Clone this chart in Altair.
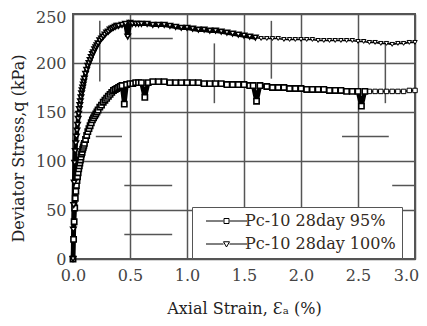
import altair as alt
import pandas as pd

# ---- data ----
strain_95 = [0, 0.005, 0.01, 0.015, 0.02, 0.025, 0.03, 0.035, 0.04, 0.045, 0.05, 0.055, 0.06, 0.065,
             0.07, 0.075, 0.08, 0.085, 0.09, 0.095, 0.10,
             0.11, 0.12, 0.13, 0.14, 0.15, 0.16, 0.17, 0.18, 0.19, 0.20, 0.21, 0.22, 0.235,
             0.25, 0.265, 0.28, 0.295, 0.31, 0.325, 0.34, 0.355, 0.37, 0.385, 0.40, 0.415, 0.43, 0.45, 0.47, 0.50,
             0.525, 0.55, 0.575, 0.60, 0.63, 0.66, 0.70,
             0.75, 0.80, 0.85, 0.90, 0.95, 1.00, 1.05, 1.10, 1.15, 1.20, 1.25, 1.30, 1.35, 1.40, 1.45, 1.50, 1.55,
             1.58, 1.61, 1.64,
             1.70, 1.75, 1.80, 1.85, 1.90, 1.95, 2.00, 2.05, 2.10, 2.15, 2.20, 2.25, 2.30, 2.35, 2.40, 2.45, 2.50,
             2.53, 2.56,
             2.60, 2.65, 2.70, 2.75, 2.80, 2.85, 2.90, 2.95, 3.00]
stress_95 = [0, 20, 38, 52, 62, 69, 75, 80, 84, 88, 92, 95, 98, 101,
             104, 107, 109, 112, 114, 116, 118,
             122, 126, 130, 133, 136, 139, 142, 144, 146, 148, 150, 152, 155,
             157, 160, 162, 164, 166, 168, 170, 172, 173, 174, 175, 176, 177, 158, 178, 179,
             179, 180, 180, 180, 165, 180, 181,
             181, 181, 180, 180, 180, 180, 180, 180, 179, 179, 179, 179, 178, 178, 178, 178, 177,
             177, 161, 177,
             176, 175, 175, 175, 174, 174, 174, 173, 173, 173, 173, 172, 172, 172, 171, 171, 171,
             156, 171,
             171, 171, 171, 171, 171, 171, 171, 172, 172]

strain_100 = [0, 0.003, 0.006, 0.01, 0.015, 0.02, 0.025, 0.03, 0.035, 0.04, 0.045, 0.05, 0.055, 0.06,
              0.065, 0.07, 0.075, 0.08, 0.085, 0.09, 0.095, 0.10,
              0.11, 0.12, 0.13, 0.14, 0.15, 0.16, 0.17, 0.18, 0.19, 0.20, 0.21, 0.22, 0.235,
              0.25, 0.265, 0.28, 0.295, 0.31, 0.325, 0.34, 0.355, 0.37, 0.385, 0.40, 0.43, 0.46, 0.48, 0.50,
              0.52, 0.55, 0.575,
              0.60, 0.65, 0.70, 0.75, 0.80, 0.85, 0.90, 0.95, 1.00, 1.05,
              1.10, 1.15, 1.20, 1.25, 1.30, 1.35, 1.40, 1.45, 1.50, 1.55,
              1.60, 1.65, 1.70, 1.75, 1.80, 1.85, 1.90, 1.95, 2.00, 2.05,
              2.10, 2.15, 2.20, 2.25, 2.30, 2.35, 2.40, 2.45, 2.50, 2.55,
              2.60, 2.65, 2.70, 2.75, 2.80, 2.85, 2.90, 2.95, 3.00]
stress_100 = [0, 30, 55, 78, 98, 110, 118, 125, 131, 137, 143, 148, 153, 157,
              161, 165, 169, 172, 175, 178, 181, 184,
              189, 193, 197, 200, 203, 206, 209, 211, 214, 216, 218, 220, 223,
              225, 227, 229, 231, 232, 234, 235, 236, 237, 238, 238, 239, 240, 227, 241,
              240, 240, 240,
              240, 240, 239, 239, 239, 238, 237, 236, 236, 235,
              234, 234, 233, 233, 232, 231, 230, 229, 228, 227,
              226, 225, 225, 225, 225, 224, 224, 224, 224, 224,
              224, 223, 223, 223, 223, 223, 223, 223, 222, 222,
              221, 221, 220, 220, 219, 220, 220, 221, 221]

series_names = ["Pc-10 28day 95%", "Pc-10 28day 100%"]

# short grid-dash segments visible in the reference
hseg_y = [225, 125, 125, 75, 75, 25]
hseg_x1 = [0.50, 0.20, 2.36, 0.45, 2.80, 0.45]
hseg_x2 = [0.875, 0.43, 2.77, 0.87, 3.00, 0.87]
vseg_x = [0.235, 1.24, 1.74, 2.74]
vseg_y1 = [181, 159, 184, 159]
vseg_y2 = [243, 220, 243, 220]

x_ticks = [0, 0.5, 1.0, 1.5, 2.0, 2.5, 3.0]
y_ticks = [0, 50, 100, 150, 200, 250]

df = pd.concat([
    pd.DataFrame({"strain": strain_95, "stress": stress_95, "series": series_names[0],
                  "idx": range(len(strain_95))}),
    pd.DataFrame({"strain": strain_100, "stress": stress_100, "series": series_names[1],
                  "idx": range(len(strain_100))}),
])
hseg = pd.DataFrame({"y": hseg_y, "x1": hseg_x1, "x2": hseg_x2})
vseg = pd.DataFrame({"x": vseg_x, "y1": vseg_y1, "y2": vseg_y2})

FONT = "DejaVu Serif"
xscale = alt.Scale(domain=[0, 3], nice=False)
yscale = alt.Scale(domain=[0, 250], nice=False)

xaxis = alt.Axis(values=x_ticks, format=".1f", title="Axial Strain, Ɛₐ (%)",
                 grid=True, ticks=False, domain=False, labelPadding=8, labelFlush=False,
                 labelOffset={"condition": {"test": "datum.value >= 3", "value": -9}, "value": 0},
                 titleY=54, titleBaseline="alphabetic")
yaxis = alt.Axis(values=y_ticks, title="Deviator Stress,q (kPa)", grid=True, ticks=False,
                 domain=False, labelPadding=7, labelFlush=False,
                 labelOffset={"condition": {"test": "datum.value >= 250", "value": 3}, "value": 0},
                 titleX=-50, titleY=134, titleBaseline="alphabetic")

# legend symbols: a line with the marker in its middle
sq = "M0,0H7.0M9.4,0H16.4M7.2,-1H9.2V1H7.2Z"
tri = "M0,0H7.0M9.4,0H16.4M7.0,-0.9H9.4L8.2,1.2Z"

legend = alt.Legend(
    title=None, orient="none", legendX=119, legendY=193,
    fillColor="white", strokeColor="#555", padding=6,
    labelFont=FONT, labelFontSize=16, labelColor="#332a22", labelLimit=0,
    symbolSize=25, labelOffset=31, rowPadding=7,
    symbolStrokeColor="black", symbolStrokeWidth=1,
)

# which part of each curve is drawn as a dense heavy band, which as a light marker line
heavy = f"datum.series == '{series_names[0]}' ? datum.strain <= 2.56 : datum.strain <= 1.6"
light = f"datum.series == '{series_names[0]}' ? datum.strain >= 2.53 : datum.strain >= 1.6"

hrules = alt.Chart(hseg).mark_rule(color="#555", strokeWidth=1.5).encode(
    x=alt.X("x1:Q", scale=xscale, axis=xaxis), x2="x2:Q",
    y=alt.Y("y:Q", scale=yscale, axis=yaxis))
vrules = alt.Chart(vseg).mark_rule(color="#555", strokeWidth=1.5).encode(
    x=alt.X("x:Q", scale=xscale), y=alt.Y("y1:Q", scale=yscale), y2="y2:Q")

shape_scale = alt.Scale(domain=series_names, range=["square", "triangle-down"])


def curve(expr, lw, msize, mstroke):
    base = alt.Chart(df).transform_filter(expr)
    ln = base.mark_line(strokeWidth=lw, color="black").encode(
        x=alt.X("strain:Q", scale=xscale),
        y=alt.Y("stress:Q", scale=yscale),
        detail="series:N",
        order="idx:Q",
    )
    pt = base.mark_point(filled=False, fill="white", fillOpacity=1, stroke="black",
                         strokeWidth=mstroke, size=msize, opacity=1).encode(
        x=alt.X("strain:Q", scale=xscale),
        y=alt.Y("stress:Q", scale=yscale),
        shape=alt.Shape("series:N", scale=shape_scale, legend=None),
    )
    return ln, pt


ln_h, pt_h = curve(heavy, 4.5, 28, 1.6)
ln_l, pt_l = curve(light, 1.6, 20, 1.0)

legend_layer = alt.Chart(df).transform_filter(alt.datum.strain < 0).mark_point(
    filled=False, color="black", strokeWidth=1, opacity=1).encode(
    x=alt.X("strain:Q", scale=xscale),
    y=alt.Y("stress:Q", scale=yscale),
    shape=alt.Shape("series:N", scale=alt.Scale(domain=series_names, range=[sq, tri]),
                    legend=legend),
)

chart = alt.layer(hrules, vrules, ln_l, pt_l, ln_h, pt_h, legend_layer).resolve_scale(
    shape="independent"
).properties(
    width=342, height=245,
    autosize=alt.AutoSizeParams(type="none"),
    padding={"left": 65, "top": 6, "right": 4, "bottom": 59},
).configure_view(stroke="#555", strokeWidth=2).configure_axis(
    labelFont=FONT, labelFontSize=16, labelColor="#444",
    titleFont=FONT, titleFontSize=16, titleColor="#222", titleFontWeight="normal",
    gridColor="#555", gridWidth=1.5, gridOpacity=1,
)

chart.save("out.html", embed_options={"renderer": "svg", "actions": False})
